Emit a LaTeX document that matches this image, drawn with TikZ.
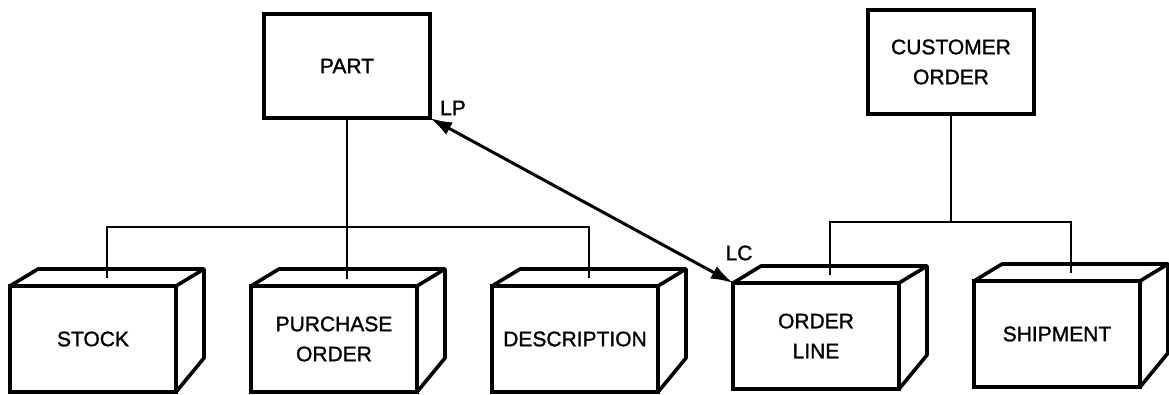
\documentclass[tikz,border=0pt]{standalone}
\usepackage{fontspec}
\setmainfont{Liberation Sans}[BoldFont={Liberation Sans},BoldFeatures={FakeBold=1.3}]
\usetikzlibrary{arrows.meta}
\newcommand{\depthfaces}[1]{%
  \draw[boxline] (#1.north west) -- ++(28,-17) -- ([shift={(28,-17)}]#1.north east) -- ++(0,89) -- (#1.south east);
  \draw[boxline] (#1.north east) -- ++(28,-17);
  \coordinate (#1T) at ([shift={(14,-8)}]#1.north);}
\begin{document}
\begin{tikzpicture}[x=1pt,y=-1pt,
  every node/.style={font=\fontsize{21}{30}\selectfont\bfseries},
  boxline/.style={line width=3.6pt, line join=round},
  front/.style={draw, line width=3.6pt, minimum width=166pt, minimum height=106pt, align=center, inner sep=0pt, outer sep=0pt},
  flat/.style={draw, line width=3.2pt, minimum width=166pt, minimum height=104pt, align=center, inner sep=0pt, outer sep=0pt},
  conn/.style={line width=2.2pt},
  link/.style={line width=3pt, {Latex[length=22pt,width=14pt]}-{Latex[length=22pt,width=14pt]}}]
\useasboundingbox (0,0) rectangle (1169,394);

\node[flat] (part) at (347,66) {PART};
\node[flat] (co) at (951,62) {CUSTOMER\\ORDER};

\node[front] (stock) at (93,339) {STOCK};
\node[front] (po) at (334,339) {PURCHASE\\ORDER};
\node[front] (desc) at (575,339) {DESCRIPTION};
\node[front] (ol) at (816,336) {ORDER\\LINE};
\node[front] (ship) at (1057,334) {SHIPMENT};

\depthfaces{stock}
\depthfaces{po}
\depthfaces{desc}
\depthfaces{ol}
\depthfaces{ship}

\coordinate (busL) at (0,227);
\coordinate (busR) at (0,222);

\draw[conn] (part.south) -- (part.south |- poT) -- (poT);
\draw[conn] (stockT) -- (stockT |- busL) -- (descT |- busL) -- (descT);

\draw[conn] (co.south) -- (co.south |- busR);
\draw[conn] (olT) -- (olT |- busR) -- (shipT |- busR) -- (shipT);

\draw[link] (part.south east) -- (ol.north west);
\node (lp) at (453,108) {LP};
\node (lc) at (739,253) {LC};
\end{tikzpicture}
\end{document}
